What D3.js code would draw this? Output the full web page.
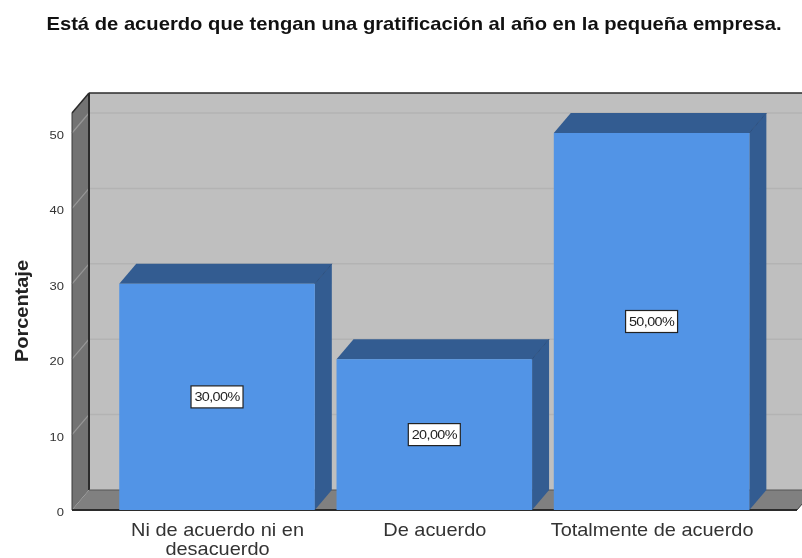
<!DOCTYPE html>
<html><head><meta charset="utf-8">
<script src="https://cdn.jsdelivr.net/npm/d3@7"></script>
<style>html,body{margin:0;padding:0;background:#fff;overflow:hidden}svg{display:block;filter:blur(.7px)}text{font-family:"Liberation Sans",Arial,sans-serif}</style>
</head><body><svg id="c" width="802" height="558"></svg>
<script>
const categories = ["Ni de acuerdo ni en desacuerdo", "De acuerdo", "Totalmente de acuerdo"];
const categoryLines = [["Ni de acuerdo ni en","desacuerdo"],["De acuerdo"],["Totalmente de acuerdo"]];
const values = [30, 20, 50];
const valueLabels = ["30,00%", "20,00%", "50,00%"];
const yTicks = [0, 10, 20, 30, 40, 50];
const title = "Está de acuerdo que tengan una gratificación al año en la pequeña empresa.";
const yTitle = "Porcentaje";

const svg = d3.select("#c");
const dx = 17, dy = -20;
const plotL = 72, plotR = 797, y0 = 510;
const y = d3.scaleLinear().domain([0, 50]).range([y0, 133]);
const x = d3.scaleBand().domain(categories).range([107.3, 761.3]).paddingInner(0.1).paddingOuter(0.055);
const yTop = 113;
const poly = (pts, fill, stroke) => svg.append("polygon").attr("points", pts.map(p => p.join(",")).join(" ")).attr("fill", fill).attr("stroke", stroke || "none").attr("stroke-width", 1);

svg.append("text").attr("transform", "translate(414,30) scale(1.155,1)").attr("text-anchor", "middle")
  .attr("font-size", 17.5).attr("font-weight", "bold").attr("fill", "#111").text(title);

// back wall, side wall and floor
poly([[plotL + dx, yTop + dy], [820, yTop + dy], [820, y0 + dy], [plotL + dx, y0 + dy]], "#bfbfbf");
poly([[plotL, yTop], [plotL + dx, yTop + dy], [plotL + dx, y0 + dy], [plotL, y0]], "#737373");
poly([[plotL, y0], [plotL + dx, y0 + dy], [plotR + dx, y0 + dy], [plotR, y0]], "#808080");

// gridlines
yTicks.slice(1).forEach(t => {
  svg.append("line").attr("x1", plotL + dx).attr("x2", 820).attr("y1", y(t) + dy).attr("y2", y(t) + dy).attr("stroke", "#b3b3b3").attr("stroke-width", 1.5);
  svg.append("line").attr("x1", plotL).attr("x2", plotL + dx).attr("y1", y(t)).attr("y2", y(t) + dy).attr("stroke", "#979797").attr("stroke-width", 1.2);
});

// frame edges
const edge = (x1, y1, x2, y2, w, c) => svg.append("line").attr("x1", x1).attr("y1", y1).attr("x2", x2).attr("y2", y2).attr("stroke", c || "#2b2b2b").attr("stroke-width", w || 1.5);
edge(plotL + dx, yTop + dy, 802, yTop + dy);
edge(plotL + dx, yTop + dy, plotL + dx, y0 + dy, 2);
edge(plotL, yTop, plotL + dx, yTop + dy);
edge(plotL, yTop, plotL, y0, 1, "#3a3a3a");
edge(plotL, y0, plotR, y0, 2);
edge(plotR, y0, plotR + dx, y0 + dy, 1, "#3a3a3a");
edge(plotL + dx, y0 + dy, 802, y0 + dy, 1, "#555");

// bars
categories.forEach((c, i) => {
  const l = x(c), r = l + x.bandwidth(), t = y(values[i]);
  poly([[l, t], [l + dx, t + dy], [r + dx, t + dy], [r, t]], "#335c91");
  poly([[r, t], [r + dx, t + dy], [r + dx, y0 + dy], [r, y0]], "#335c91");
  svg.append("rect").attr("x", l).attr("y", t).attr("width", r - l).attr("height", y0 - t).attr("fill", "#5294e6");
  edge(r, t, r + dx, t + dy, 1, "#2d5181");
  const cx = (l + r) / 2, cy = (t + y0) / 2;
  svg.append("rect").attr("x", cx - 26).attr("y", cy - 11).attr("width", 52).attr("height", 22).attr("fill", "#fff").attr("stroke", "#222").attr("stroke-width", 1.2);
  svg.append("text").attr("transform", `translate(${cx},${cy + 4.5}) scale(1.2,1)`).attr("text-anchor", "middle").attr("font-size", 12).attr("letter-spacing", -0.5).attr("fill", "#222").text(valueLabels[i]);
  const lines = categoryLines[i];
  lines.forEach((s, k) => svg.append("text").attr("transform", `translate(${cx + 0.5},${536 + k * 18.5}) scale(1.14,1)`).attr("text-anchor", "middle").attr("font-size", 17.5).attr("fill", "#333").text(s));
});

// y ticks
yTicks.forEach(t => {
  svg.append("text").attr("transform", `translate(64,${y(t) + 6}) scale(1.13,1)`).attr("text-anchor", "end").attr("font-size", 11.5).attr("fill", "#333").text(t);
});
svg.append("text").attr("transform", "translate(28,311) rotate(-90) scale(1.14,1)").attr("text-anchor", "middle").attr("font-size", 17.5).attr("font-weight", "bold").attr("fill", "#222").text(yTitle);
</script></body></html>
